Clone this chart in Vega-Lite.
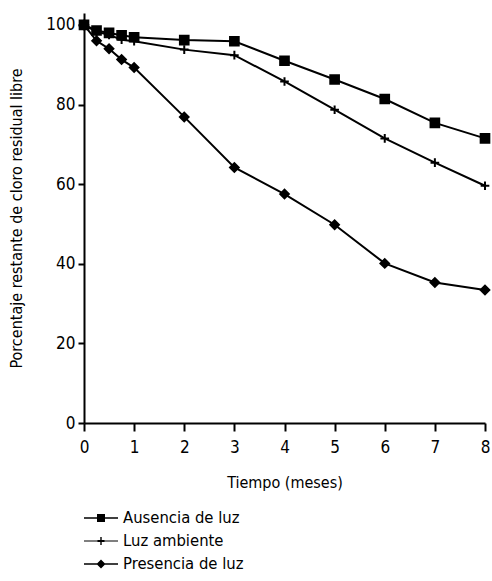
{
  "$schema": "https://vega.github.io/schema/vega-lite/v6.json",
  "width": 401,
  "height": 410,
  "padding": {"left": 8, "top": 13, "right": 6, "bottom": 3},
  "background": "white",
  "config": {
    "font": "DejaVu Sans Condensed, Liberation Sans, sans-serif",
    "view": {"stroke": null},
    "axis": {
      "grid": false,
      "domainColor": "black",
      "domainWidth": 2,
      "tickColor": "black",
      "tickWidth": 2,
      "labelColor": "black",
      "titleColor": "black",
      "labelFont": "DejaVu Sans Condensed, Liberation Sans, sans-serif",
      "titleFont": "DejaVu Sans Condensed, Liberation Sans, sans-serif",
      "labelFontSize": 17,
      "titleFontSize": 16,
      "titleFontWeight": "normal"
    },
    "legend": {
      "labelFont": "DejaVu Sans Condensed, Liberation Sans, sans-serif",
      "labelFontSize": 16.5,
      "labelColor": "black"
    }
  },
  "data": {
    "values": [
      {"t": 0, "v": 100, "s": "Ausencia de luz"},
      {"t": 0.25, "v": 98.6, "s": "Ausencia de luz"},
      {"t": 0.5, "v": 98.0, "s": "Ausencia de luz"},
      {"t": 0.75, "v": 97.4, "s": "Ausencia de luz"},
      {"t": 1, "v": 96.9, "s": "Ausencia de luz"},
      {"t": 2, "v": 96.2, "s": "Ausencia de luz"},
      {"t": 3, "v": 95.9, "s": "Ausencia de luz"},
      {"t": 4, "v": 91.0, "s": "Ausencia de luz"},
      {"t": 5, "v": 86.3, "s": "Ausencia de luz"},
      {"t": 6, "v": 81.4, "s": "Ausencia de luz"},
      {"t": 7, "v": 75.4, "s": "Ausencia de luz"},
      {"t": 8, "v": 71.5, "s": "Ausencia de luz"},
      {"t": 0, "v": 100, "s": "Luz ambiente"},
      {"t": 0.25, "v": 98.3, "s": "Luz ambiente"},
      {"t": 0.5, "v": 97.5, "s": "Luz ambiente"},
      {"t": 0.75, "v": 96.3, "s": "Luz ambiente"},
      {"t": 1, "v": 95.9, "s": "Luz ambiente"},
      {"t": 2, "v": 93.8, "s": "Luz ambiente"},
      {"t": 3, "v": 92.4, "s": "Luz ambiente"},
      {"t": 4, "v": 85.8, "s": "Luz ambiente"},
      {"t": 5, "v": 78.7, "s": "Luz ambiente"},
      {"t": 6, "v": 71.5, "s": "Luz ambiente"},
      {"t": 7, "v": 65.4, "s": "Luz ambiente"},
      {"t": 8, "v": 59.6, "s": "Luz ambiente"},
      {"t": 0, "v": 100, "s": "Presencia de luz"},
      {"t": 0.25, "v": 96.0, "s": "Presencia de luz"},
      {"t": 0.5, "v": 94.0, "s": "Presencia de luz"},
      {"t": 0.75, "v": 91.3, "s": "Presencia de luz"},
      {"t": 1, "v": 89.3, "s": "Presencia de luz"},
      {"t": 2, "v": 76.9, "s": "Presencia de luz"},
      {"t": 3, "v": 64.2, "s": "Presencia de luz"},
      {"t": 4, "v": 57.5, "s": "Presencia de luz"},
      {"t": 5, "v": 49.8, "s": "Presencia de luz"},
      {"t": 6, "v": 40.1, "s": "Presencia de luz"},
      {"t": 7, "v": 35.3, "s": "Presencia de luz"},
      {"t": 8, "v": 33.4, "s": "Presencia de luz"}
    ]
  },
  "encoding": {
    "x": {
      "field": "t", "type": "quantitative",
      "scale": {"domain": [0, 8], "nice": false, "zero": false},
      "axis": {"values": [0,1,2,3,4,5,6,7,8], "title": "Tiempo (meses)", "tickSize": 8, "labelPadding": 8, "titlePadding": 19, "labelFlush": false}
    },
    "y": {
      "field": "v", "type": "quantitative",
      "scale": {"domain": [0, 103], "nice": false},
      "axis": {"values": [0,20,40,60,80,100], "title": "Porcentaje restante de cloro residual libre", "tickSize": 6, "labelPadding": 3, "titlePadding": 21}
    }
  },
  "resolve": {"scale": {"shape": "independent"}},
  "layer": [
    {
      "mark": {"type": "line", "color": "black", "strokeWidth": 2},
      "encoding": {"detail": {"field": "s"}}
    },
    {
      "mark": {"type": "point", "filled": true, "color": "black", "stroke": "black", "strokeWidth": 2, "opacity": 1, "size": 75},
      "encoding": {
        "shape": {
          "field": "s", "type": "nominal",
          "scale": {"domain": ["Ausencia de luz", "Luz ambiente", "Presencia de luz"], "range": ["square", "M-1,0L1,0M0,-1L0,1", "diamond"]},
          "legend": null
        }
      }
    },
    {
      "transform": [{"filter": "datum.v < 0"}],
      "mark": {"type": "point", "filled": true, "color": "black", "opacity": 1},
      "encoding": {
        "shape": {
          "field": "s", "type": "nominal",
          "scale": {"domain": ["Ausencia de luz", "Luz ambiente", "Presencia de luz"], "range": [
            "M-1,-0.08L2.4,-0.08L2.4,0.08L-1,0.08ZM0.3,-0.4L1.1,-0.4L1.1,0.4L0.3,0.4Z",
            "M-1,-0.06L2.4,-0.06L2.4,0.06L-1,0.06ZM0.63,-0.4L0.77,-0.4L0.77,0.4L0.63,0.4ZM0.35,-0.1L1.05,-0.1L1.05,0.1L0.35,0.1Z",
            "M-1,-0.08L2.4,-0.08L2.4,0.08L-1,0.08ZM0.7,-0.45L1.15,0L0.7,0.45L0.25,0Z"
          ]},
          "legend": {
            "title": null,
            "orient": "bottom",
            "direction": "vertical",
            "offset": 18,
            "rowPadding": 4,
            "symbolSize": 400,
            "symbolFillColor": "black",
            "symbolStrokeColor": "black",
            "symbolStrokeWidth": 0,
            "symbolOpacity": 1,
            "labelOffset": 19
          }
        }
      }
    }
  ]
}
